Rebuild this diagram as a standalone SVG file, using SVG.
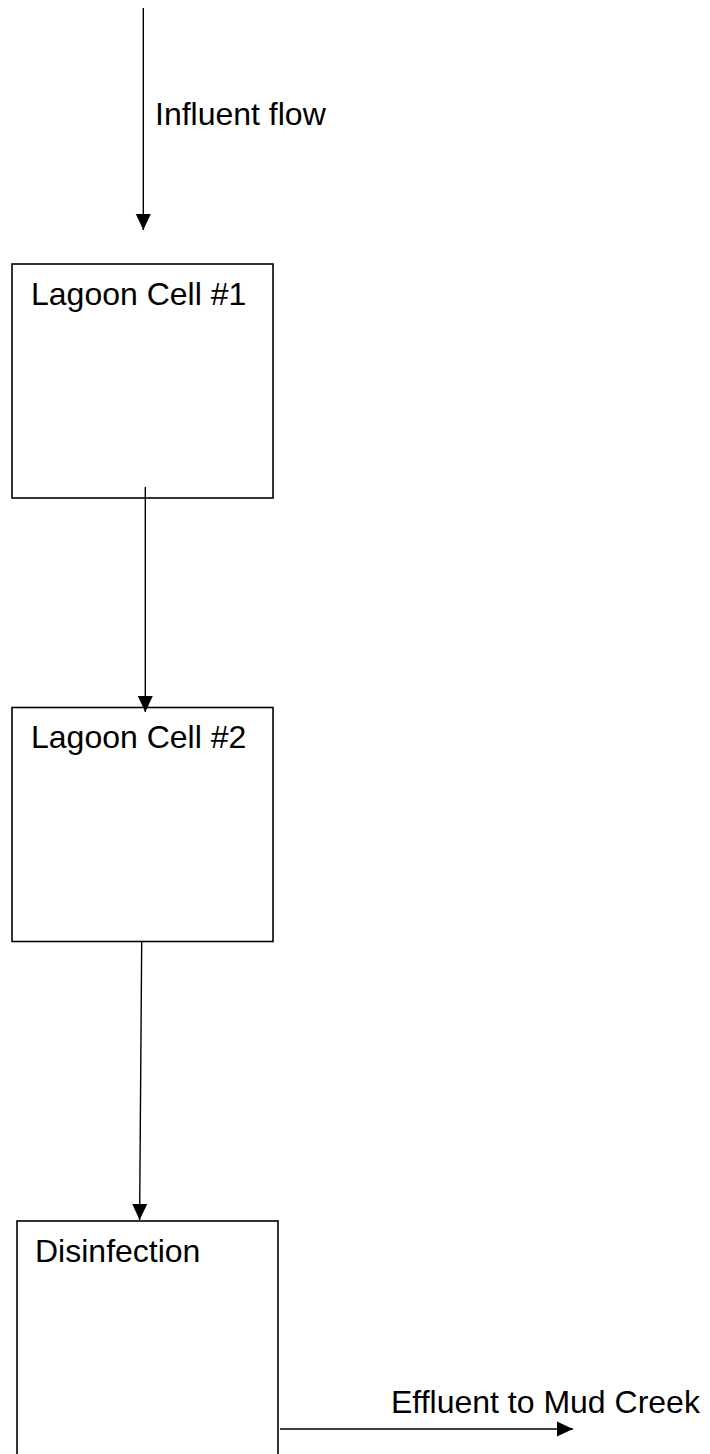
<svg xmlns="http://www.w3.org/2000/svg" width="710" height="1454" viewBox="0 0 710 1454">
  <style>
    .box { fill: #ffffff; stroke: #000000; stroke-width: 1.6; }
    .lbl { font-family: "Liberation Sans", Arial, sans-serif; font-size: 32px; fill: #000000; }
    .conn { stroke: #000000; stroke-width: 1.4; fill: none; marker-end: url(#arrow); }
  </style>
  <defs>
    <marker id="arrow" markerUnits="userSpaceOnUse" markerWidth="16" markerHeight="16" viewBox="0 0 16 16" refX="16" refY="8" orient="auto">
      <path d="M0,0.5 L16,8 L0,15.5 Z" fill="#000000"/>
    </marker>
  </defs>
  <rect width="710" height="1454" fill="#ffffff"/>

  <g id="label-influent">
    <text class="lbl" x="155" y="125">Influent flow</text>
  </g>

  <g id="lagoon-cell-1">
    <rect class="box" x="12" y="264" width="261" height="234"/>
    <text class="lbl" x="31" y="305">Lagoon Cell #1</text>
  </g>

  <g id="lagoon-cell-2">
    <rect class="box" x="12" y="707.5" width="261" height="234"/>
    <text class="lbl" x="31" y="748">Lagoon Cell #2</text>
  </g>

  <g id="disinfection">
    <rect class="box" x="17" y="1221" width="261" height="236"/>
    <text class="lbl" x="35" y="1262">Disinfection</text>
  </g>

  <g id="label-effluent">
    <text class="lbl" x="391" y="1413">Effluent to Mud Creek</text>
  </g>

  <g id="connectors">
    <line class="conn" x1="143.3" y1="8" x2="143.3" y2="230"/>
    <line class="conn" x1="145.3" y1="487" x2="145.3" y2="712"/>
    <line class="conn" x1="141.7" y1="942" x2="139.6" y2="1220"/>
    <line class="conn" x1="280" y1="1429" x2="573" y2="1429"/>
  </g>
</svg>
